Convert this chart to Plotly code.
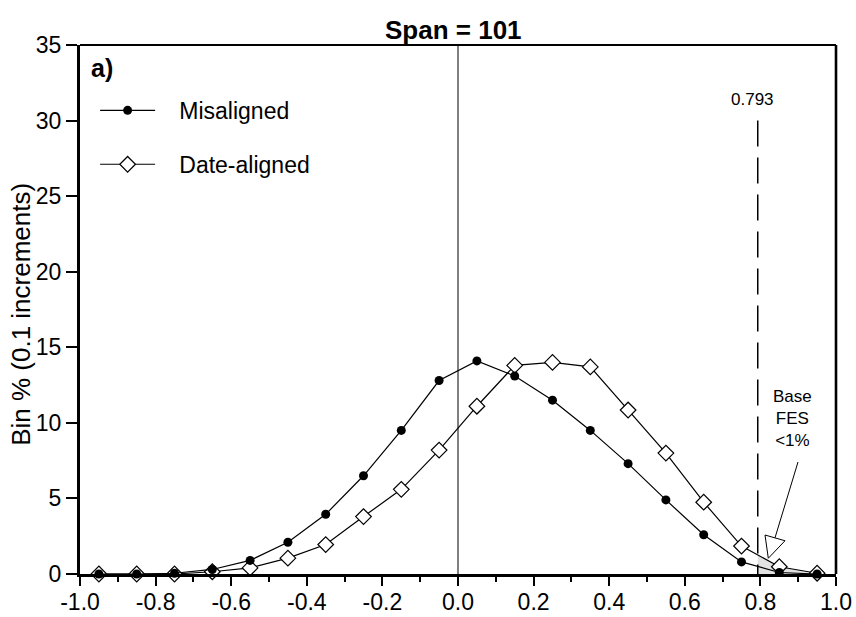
import numpy as np
import plotly.graph_objects as go

# ---- data ----
bins = [-0.95, -0.85, -0.75, -0.65, -0.55, -0.45, -0.35, -0.25, -0.15, -0.05,
        0.05, 0.15, 0.25, 0.35, 0.45, 0.55, 0.65, 0.75, 0.85, 0.95]
misaligned = [0.0, 0.0, 0.05, 0.3, 0.9, 2.1, 3.95, 6.5, 9.5, 12.8,
              14.1, 13.1, 11.5, 9.5, 7.3, 4.9, 2.6, 0.8, 0.1, 0.0]
date_aligned = [0.0, 0.0, 0.0, 0.15, 0.4, 1.05, 1.95, 3.8, 5.6, 8.2,
                11.1, 13.8, 14.0, 13.7, 10.85, 8.0, 4.75, 1.85, 0.48, 0.05]
x_tickvals = [-1.0, -0.8, -0.6, -0.4, -0.2, 0.0, 0.2, 0.4, 0.6, 0.8, 1.0]
x_ticktext = ["-1.0", "-0.8", "-0.6", "-0.4", "-0.2", "0.0", "0.2", "0.4", "0.6", "0.8", "1.0"]
y_tickvals = [0, 5, 10, 15, 20, 25, 30, 35]
threshold = 0.793

FONT = "Liberation Sans, Arial, Helvetica, sans-serif"
PAD = "\u00a0\u00a0\u00a0"

# shaded tail region under the date-aligned curve beyond threshold
bx = np.array(bins)
dy = np.array(date_aligned)
tail_mask = bx > threshold
shade_x = [threshold, threshold] + list(bx[tail_mask]) + [bx[tail_mask][-1]]
shade_y = [0, float(np.interp(threshold, bx, dy))] + list(dy[tail_mask]) + [0]

fig = go.Figure()
fig.add_trace(go.Scatter(x=shade_x, y=shade_y, fill="toself", fillcolor="#e2e2e2",
                         line=dict(width=0), mode="lines", showlegend=False,
                         hoverinfo="skip"))
fig.add_trace(go.Scatter(x=bins, y=date_aligned, name=PAD + "Date-aligned", mode="lines+markers",
                         line=dict(color="black", width=1.2),
                         marker=dict(symbol="diamond", size=12, color="white",
                                     line=dict(color="black", width=1.2)),
                         cliponaxis=False, legendrank=2, legendgroup="b"))
fig.add_trace(go.Scatter(x=bins, y=misaligned, name=PAD + "Misaligned", mode="lines+markers",
                         line=dict(color="black", width=1.2),
                         marker=dict(symbol="circle", size=9, color="black"),
                         cliponaxis=False, legendrank=1, legendgroup="a"))

shapes = [
    # zero line
    dict(type="line", xref="x", yref="paper", x0=0, x1=0, y0=0, y1=1,
         line=dict(color="black", width=1)),
    # threshold dashed line
    dict(type="line", xref="x", yref="y", x0=threshold, x1=threshold, y0=30, y1=0,
         line=dict(color="black", width=1.5, dash="26px,11px")),
    # top and right borders
    dict(type="line", xref="paper", yref="paper", x0=0, x1=1, y0=1, y1=1,
         line=dict(color="black", width=2.2)),
    dict(type="line", xref="paper", yref="paper", x0=1, x1=1, y0=0, y1=1,
         line=dict(color="black", width=2.6)),
    # arrow for annotation
    dict(type="line", xref="x", yref="y", x0=0.8995, y0=7.41, x1=0.8386, y1=2.39,
         line=dict(color="black", width=1)),
    dict(type="path", xref="x", yref="y",
         path="M0.8122,2.58 L0.8651,2.20 L0.8209,1.04 Z",
         fillcolor="white", line=dict(color="black", width=1)),
]

annotations = [
    dict(text="<b>Span = 101</b>", xref="paper", yref="paper", x=0.4934, y=1,
         xanchor="center", yanchor="bottom", showarrow=False, yshift=-2,
         font=dict(size=26, color="black", family=FONT)),
    dict(text="<b>a)</b>", xref="paper", yref="paper", x=0.012, y=0.9565,
         xanchor="left", yanchor="middle", showarrow=False,
         font=dict(size=25, color="black", family=FONT)),
    dict(text="Bin % (0.1 increments)", xref="paper", yref="paper", x=-0.078, y=0.49,
         xanchor="center", yanchor="middle", textangle=-90, showarrow=False,
         font=dict(size=26, color="black", family=FONT)),
    dict(text="0.793", xref="x", yref="y", x=threshold, y=31.37, xshift=-5,
         xanchor="center", yanchor="middle", showarrow=False,
         font=dict(size=17, color="black", family=FONT)),
    dict(text="Base<br>FES<br><1%", xref="x", yref="y", x=0.886, y=10.26,
         xanchor="center", yanchor="middle", align="center", showarrow=False,
         font=dict(size=17, color="black", family=FONT)),
]

fig.update_layout(
    width=856, height=617,
    margin=dict(l=80, r=20, t=45, b=43, autoexpand=False),
    paper_bgcolor="white", plot_bgcolor="white",
    font=dict(family=FONT, color="black", size=23),
    showlegend=True,
    legend=dict(x=0.02, y=0.917, xanchor="left", yanchor="top",
                bgcolor="rgba(0,0,0,0)", font=dict(size=23, family=FONT),
                itemwidth=55, tracegroupgap=21, traceorder="grouped"),
    shapes=shapes,
    annotations=annotations,
    xaxis=dict(range=[-1, 1], tickmode="array", tickvals=x_tickvals, ticktext=x_ticktext,
               automargin=False,
               showgrid=False, zeroline=False, showline=True, linecolor="black", linewidth=3,
               ticks="outside", ticklen=9, tickwidth=2, tickcolor="black",
               ticklabelstandoff=-4,
               tickfont=dict(size=23, family=FONT, color="black"),
               minor=dict(tick0=-1, dtick=0.1, ticks="outside", ticklen=5, tickwidth=2,
                          tickcolor="black", showgrid=False)),
    yaxis=dict(range=[0, 35], tickmode="array", tickvals=y_tickvals,
               automargin=False,
               showgrid=False, zeroline=False, showline=True, linecolor="black", linewidth=3,
               ticks="outside", ticklen=11, tickwidth=2, tickcolor="black",
               tickfont=dict(size=23, family=FONT, color="black")),
)

fig.write_html("out.html")
